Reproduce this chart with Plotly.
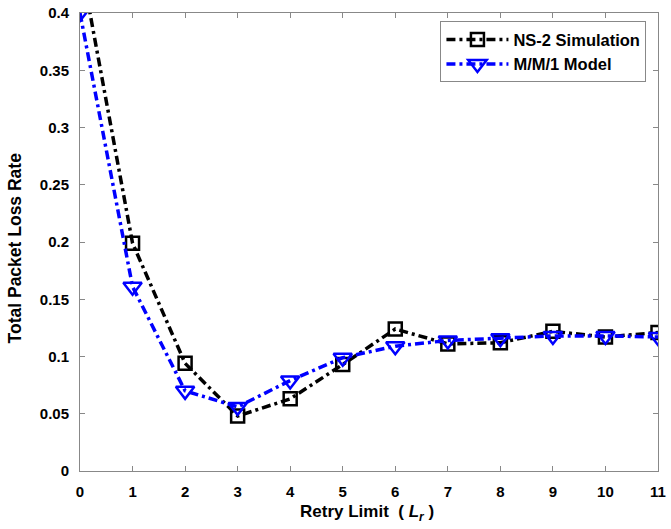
import plotly.graph_objects as go

retry_limit = [0, 1, 2, 3, 4, 5, 6, 7, 8, 9, 10, 11]
ns2_sim = [0.447, 0.199, 0.094, 0.048, 0.063, 0.093, 0.124, 0.111, 0.112, 0.122, 0.117, 0.121]
mm1_model = [0.40, 0.161, 0.070, 0.056, 0.079, 0.099, 0.109, 0.114, 0.116, 0.118, 0.118, 0.117]

x_ticks = list(range(0, 12))
y_ticks = [0, 0.05, 0.1, 0.15, 0.2, 0.25, 0.3, 0.35, 0.4]
y_tick_text = ["0", "0.05", "0.1", "0.15", "0.2", "0.25", "0.3", "0.35", "0.4"]
x_title = "<b>Retry Limit  ( <i>L</i><sub><i>r</i></sub> )</b>"
y_title = "<b>Total Packet Loss Rate</b>"

fig = go.Figure()
fig.add_trace(go.Scatter(
    x=retry_limit, y=ns2_sim, name="NS-2 Simulation", mode="lines+markers",
    line=dict(color="black", width=3.5, dash="9px,4px,3px,4px"),
    marker=dict(symbol="square-open", size=13, color="black", line=dict(width=2.5)),
))
fig.add_trace(go.Scatter(
    x=retry_limit, y=mm1_model, name="M/M/1 Model", mode="lines+markers",
    line=dict(color="#0000ff", width=3.5, dash="9px,4px,3px,4px"),
    marker=dict(symbol="triangle-down-open", size=16, color="#0000ff", line=dict(width=2.5)),
))

axis_common = dict(
    showgrid=False, zeroline=False, showline=True, linecolor="#888888", linewidth=1,
    mirror="ticks", ticks="inside", ticklen=5, tickcolor="#888888",
    ticklabelstandoff=7, automargin=False,
    tickfont=dict(family="Liberation Sans, Arial", size=15, color="black", weight="bold"),
)

fig.update_layout(
    width=671, height=529,
    margin=dict(l=80, r=13, t=13, b=58),
    paper_bgcolor="white", plot_bgcolor="white",
    font=dict(family="Liberation Sans, Arial", color="black"),
    xaxis=dict(range=[0, 11], tickvals=x_ticks, **axis_common),
    yaxis=dict(range=[0, 0.4], tickvals=y_ticks, ticktext=y_tick_text, **axis_common),
    legend=dict(x=0.98, y=0.982, xanchor="right", yanchor="top",
                bgcolor="white", bordercolor="#888888", borderwidth=1,
                font=dict(size=16.5, weight="bold"), tracegroupgap=0, itemwidth=62),
    showlegend=True,
    annotations=[
        dict(text=x_title, xref="paper", yref="paper", x=0.497, y=0,
             xanchor="center", yanchor="middle", yshift=-42, showarrow=False,
             font=dict(size=17)),
        dict(text=y_title, xref="paper", yref="paper", x=0, y=0.486,
             xanchor="center", yanchor="middle", xshift=-65, textangle=-90,
             showarrow=False, font=dict(size=17.5)),
    ],
)

fig.write_html("out.html")
